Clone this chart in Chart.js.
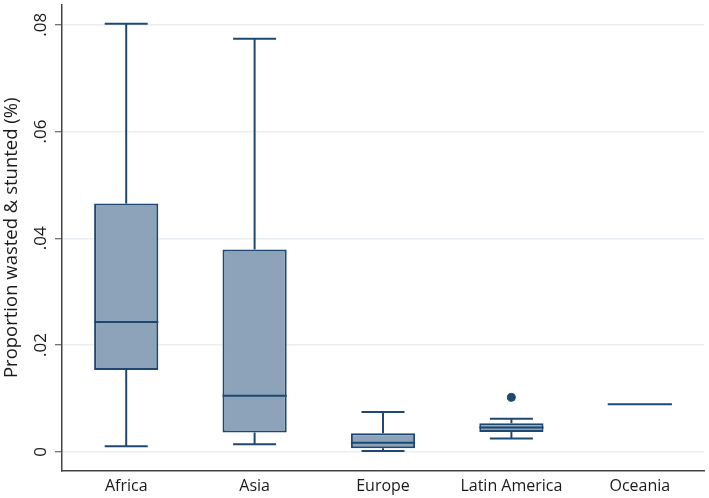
<!DOCTYPE html>
<html>
<head>
<meta charset="utf-8">
<script src="https://cdn.jsdelivr.net/npm/chart.js@4.4.1/dist/chart.umd.min.js"></script>
<style>
html, body { margin: 0; padding: 0; background: #fff; }
</style>
</head>
<body>
<canvas id="boxChart" width="709" height="498"></canvas>
<script>
// Valeurs
const regions     = ['Africa', 'Asia', 'Europe', 'Latin America', 'Oceania'];
const whiskerLow  = [0.00106, 0.00143, 0.00013, 0.00249, 0.00893];
const q1          = [0.01534, 0.00361, 0.00069, 0.00372, 0.00893];
const medians     = [0.02430, 0.01050, 0.00168, 0.00454, 0.00893];
const q3          = [0.04650, 0.03790, 0.00348, 0.00534, 0.00893];
const whiskerHigh = [0.08020, 0.07740, 0.00745, 0.00621, 0.00893];
const outliers    = [null, null, null, 0.01020, null];
const yTicks      = [0, 0.02, 0.04, 0.06, 0.08];
const yTickLabels = ['0', '.02', '.04', '.06', '.08'];

const navy = 'rgb(30, 72, 112)';
const boxFill = 'rgb(141, 163, 185)';
const textColor = '#1a1a1a';
Chart.defaults.font.family = "'Open Sans', sans-serif";

// Moustaches, médianes et étiquettes de l'axe Y (tournées)
const boxParts = {
    id: 'boxParts',
    afterDatasetsDraw(chart) {
        const meta = chart.getDatasetMeta(0);
        const y = chart.scales.y;
        const ctx = chart.ctx;
        ctx.save();
        ctx.strokeStyle = navy;
        ctx.lineWidth = 2;
        meta.data.forEach((bar, i) => {
            const cx = bar.x;
            const half = bar.width / 2;
            const cap = half * 0.67;
            const line = (x1, y1, x2, y2) => {
                ctx.beginPath(); ctx.moveTo(x1, y1); ctx.lineTo(x2, y2); ctx.stroke();
            };
            // médiane
            const ym = y.getPixelForValue(medians[i]);
            line(cx - half, ym, cx + half, ym);
            // moustache haute
            if (whiskerHigh[i] > q3[i]) {
                const yh = y.getPixelForValue(whiskerHigh[i]);
                line(cx, y.getPixelForValue(q3[i]), cx, yh);
                line(cx - cap, yh, cx + cap, yh);
            }
            // moustache basse
            if (whiskerLow[i] < q1[i]) {
                const yl = y.getPixelForValue(whiskerLow[i]);
                line(cx, y.getPixelForValue(q1[i]), cx, yl);
                line(cx - cap, yl, cx + cap, yl);
            }
        });
        ctx.restore();
    },
    afterDraw(chart) {
        const y = chart.scales.y;
        const ctx = chart.ctx;
        ctx.save();
        ctx.fillStyle = textColor;
        ctx.font = "17px 'Open Sans', sans-serif";
        ctx.textAlign = 'center';
        ctx.textBaseline = 'middle';
        yTicks.forEach((v, i) => {
            ctx.save();
            ctx.translate(41, y.getPixelForValue(v));
            ctx.rotate(-Math.PI / 2);
            ctx.fillText(yTickLabels[i], 0, 0);
            ctx.restore();
        });
        ctx.restore();
    }
};

new Chart(document.getElementById('boxChart'), {
    type: 'bar',
    data: {
        labels: regions,
        datasets: [{
            label: 'IQR',
            data: q1.map((v, i) => [v, q3[i]]),
            backgroundColor: boxFill,
            borderColor: navy,
            borderWidth: 2,
            borderSkipped: false,
            barPercentage: 0.5,
            categoryPercentage: 1
        }, {
            type: 'line',
            label: 'Outliers',
            data: outliers,
            showLine: false,
            pointRadius: 4,
            pointBackgroundColor: navy,
            pointBorderColor: navy
        }]
    },
    options: {
        responsive: false,
        animation: false,
        layout: { padding: { top: 2, right: 2, left: 0, bottom: 0 } },
        plugins: {
            legend: { display: false },
            tooltip: { enabled: false }
        },
        scales: {
            x: {
                grid: { display: false, drawTicks: false },
                border: { display: true, color: '#444', width: 1.5 },
                ticks: { color: textColor, font: { size: 16 }, padding: 6 },
                afterFit(scale) { scale.height = 27.5; }
            },
            y: {
                min: -0.0035,
                max: 0.0837,
                afterBuildTicks(scale) { scale.ticks = yTicks.map(v => ({ value: v })); },
                grid: { color: 'rgb(233, 239, 242)', lineWidth: 1.5, tickLength: 7, tickColor: '#444', tickWidth: 1 },
                border: { color: '#444', width: 1.5 },
                ticks: { display: false },
                title: {
                    display: true,
                    text: 'Proportion wasted & stunted (%)',
                    color: textColor,
                    font: { size: 18.5 },
                    padding: { top: 1, bottom: 0 }
                },
                afterFit(scale) { scale.width = 62; }
            }
        }
    },
    plugins: [boxParts]
});
</script>
</body>
</html>
